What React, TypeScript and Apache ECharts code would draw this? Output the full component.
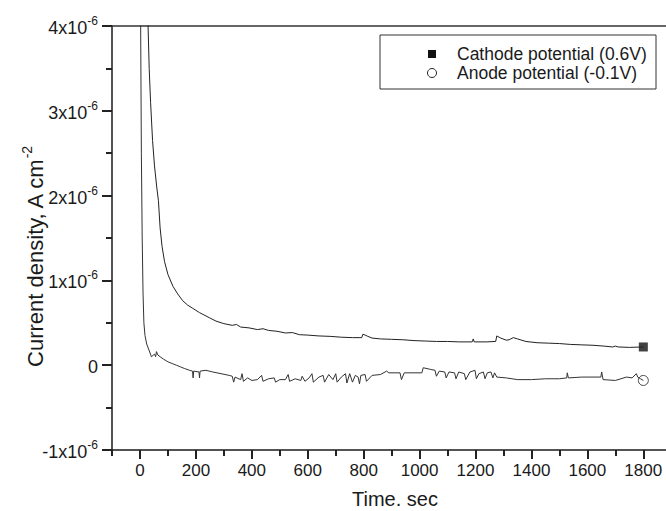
import React, { useEffect, useRef } from "react";
import * as echarts from "echarts";

// Time (s) and current density (in units of 1x10^-6 A cm^-2)
const cathodeData: [number, number][] = [
  [25, 6.0], [29, 4.0], [33, 3.5], [38, 3.1], [45, 2.65], [52, 2.35], [60, 2.1], [66, 1.94],
  [72, 1.62], [79, 1.4], [88, 1.22], [100, 1.07], [118, 0.93], [135, 0.84], [153, 0.76],
  [170, 0.71], [189, 0.67], [213, 0.62], [248, 0.56], [272, 0.52], [300, 0.49], [330, 0.47],
  [345, 0.48], [360, 0.45], [390, 0.44], [420, 0.42], [440, 0.43], [460, 0.41], [490, 0.4],
  [520, 0.38], [545, 0.385], [570, 0.36], [600, 0.355], [640, 0.345], [680, 0.34], [720, 0.33],
  [760, 0.325], [793, 0.325], [797, 0.365], [805, 0.355], [815, 0.34], [830, 0.32], [860, 0.31],
  [900, 0.305], [940, 0.3], [980, 0.29], [1020, 0.285], [1060, 0.28], [1100, 0.28], [1140, 0.275],
  [1188, 0.275], [1192, 0.31], [1195, 0.275], [1240, 0.275], [1272, 0.28], [1276, 0.345],
  [1290, 0.32], [1310, 0.295], [1320, 0.3], [1335, 0.325], [1350, 0.31], [1380, 0.28],
  [1420, 0.265], [1460, 0.26], [1500, 0.255], [1540, 0.245], [1580, 0.24], [1620, 0.235],
  [1660, 0.225], [1690, 0.215], [1700, 0.225], [1710, 0.215], [1750, 0.21], [1800, 0.215],
];

const anodeData: [number, number][] = [
  [0, 10], [2.5, 4.0], [5, 2.5], [8, 1.5], [11, 0.85], [14, 0.5], [18, 0.35], [24, 0.25],
  [32, 0.18], [41, 0.1], [48, 0.12], [52, 0.13], [56, 0.1], [59, 0.16], [64, 0.12], [72, 0.1],
  [85, 0.07], [100, 0.04], [115, 0.02], [130, 0.0], [145, -0.02], [160, -0.04], [177, -0.06],
  [188, -0.07], [190, -0.15], [192, -0.07], [211, -0.08], [213, -0.15], [215, -0.07],
  [236, -0.06], [260, -0.08], [290, -0.1], [319, -0.12], [330, -0.13], [335, -0.2], [340, -0.14],
  [360, -0.17], [365, -0.1], [370, -0.19], [385, -0.15], [400, -0.18], [420, -0.17], [435, -0.12],
  [440, -0.19], [460, -0.16], [480, -0.15], [485, -0.2], [500, -0.17], [520, -0.17], [530, -0.11],
  [535, -0.19], [555, -0.16], [575, -0.18], [580, -0.13], [590, -0.19], [605, -0.15], [615, -0.1],
  [620, -0.2], [640, -0.14], [655, -0.12], [660, -0.2], [675, -0.11], [690, -0.17], [700, -0.1],
  [705, -0.2], [720, -0.14], [735, -0.1], [740, -0.21], [750, -0.1], [760, -0.2], [770, -0.12],
  [780, -0.14], [785, -0.22], [790, -0.12], [805, -0.11], [810, -0.19], [830, -0.12], [860, -0.11],
  [882, -0.07], [890, -0.09], [930, -0.09], [935, -0.17], [945, -0.09], [1008, -0.09],
  [1013, -0.03], [1040, -0.05], [1055, -0.06], [1060, -0.13], [1070, -0.07], [1090, -0.08],
  [1095, -0.15], [1105, -0.08], [1125, -0.09], [1130, -0.16], [1140, -0.08], [1160, -0.1],
  [1165, -0.17], [1180, -0.08], [1198, -0.06], [1203, -0.16], [1212, -0.1], [1228, -0.08],
  [1234, -0.16], [1242, -0.09], [1255, -0.08], [1262, -0.15], [1268, -0.09], [1276, -0.14],
  [1310, -0.15], [1350, -0.17], [1400, -0.17], [1450, -0.16], [1500, -0.16], [1526, -0.15],
  [1528, -0.09], [1532, -0.15], [1580, -0.14], [1620, -0.14], [1648, -0.14], [1651, -0.08],
  [1656, -0.17], [1700, -0.18], [1740, -0.14], [1760, -0.15], [1775, -0.1], [1780, -0.14],
  [1790, -0.16], [1800, -0.18],
];

const seriesNames = ["Cathode potential (0.6V)", "Anode potential (-0.1V)"];
const xTitle = "Time. sec";
const yTitleMain = "Current density, A cm";
const yTitleSup = "-2";

const FONT = "'Liberation Sans', Arial, sans-serif";
const INK = "#1a1a1a";

export default function App() {
  const ref = useRef<HTMLDivElement>(null);

  useEffect(() => {
    if (!ref.current) return;
    const chart = echarts.init(ref.current, undefined, { renderer: "svg" });
    const lastC = cathodeData[cathodeData.length - 1];
    const lastA = anodeData[anodeData.length - 1];
    const tick = { color: "#222222", width: 2 };

    chart.setOption({
      animation: false,
      backgroundColor: "#fff",
      textStyle: { fontFamily: FONT },
      grid: [
        { left: 112, top: 26, width: 559.3, height: 424, containLabel: false, outerBoundsMode: "none" },
        { left: 140, top: 26, width: 559.2, height: 424, containLabel: false, outerBoundsMode: "none" },
      ],
      xAxis: [
        {
          type: "value", gridIndex: 0, position: "bottom",
          min: -100, max: 1900, interval: 100,
          axisLine: { show: true, onZero: false, lineStyle: { color: INK, width: 1.5 } },
          axisTick: { show: true, inside: false, length: 6, lineStyle: tick },
          axisLabel: { show: false },
          splitLine: { show: false },
        },
        {
          type: "value", gridIndex: 0, position: "top",
          min: -100, max: 1900, interval: 100,
          axisLine: { show: true, onZero: false, lineStyle: { color: "#333", width: 1.5 } },
          axisTick: { show: false },
          axisLabel: { show: false },
          splitLine: { show: false },
        },
        {
          type: "value", gridIndex: 1, position: "bottom",
          min: 0, max: 2000, interval: 200,
          axisLine: { show: false, onZero: false },
          axisTick: { show: true, inside: false, length: 9, lineStyle: tick },
          axisLabel: {
            show: true, margin: 12, fontSize: 17, color: INK, fontFamily: FONT,
            formatter: (v: number) => (v > 1800 ? "" : String(v)),
          },
          splitLine: { show: false },
        },
      ],
      yAxis: [
        {
          type: "value", gridIndex: 0, position: "left",
          min: -1, max: 4, interval: 1,
          axisLine: { show: true, onZero: false, lineStyle: { color: INK, width: 1.5 } },
          axisTick: { show: true, inside: false, length: 10, lineStyle: tick },
          splitLine: { show: false },
          axisLabel: {
            margin: 14,
            formatter: (v: number) => (v === 0 ? "{n|0}" : `{n|${v}x10}{s|-6}`),
            rich: {
              n: { fontSize: 18, lineHeight: 22, verticalAlign: "bottom", color: INK, fontFamily: FONT },
              s: { fontSize: 12, lineHeight: 12, verticalAlign: "top", color: INK, fontFamily: FONT },
            },
          },
        },
        {
          type: "value", gridIndex: 0, position: "left",
          min: -1, max: 4, interval: 0.5,
          axisLine: { show: false, onZero: false },
          axisTick: { show: true, inside: false, length: 6, lineStyle: tick },
          axisLabel: { show: false },
          splitLine: { show: false },
        },
        { type: "value", gridIndex: 1, min: -1, max: 4, show: false },
      ],
      series: [
        {
          name: seriesNames[0], type: "line", xAxisIndex: 0, yAxisIndex: 0,
          data: cathodeData, symbol: "none", clip: true,
          lineStyle: { color: "#222", width: 1 },
        },
        {
          name: seriesNames[1], type: "line", xAxisIndex: 0, yAxisIndex: 0,
          data: anodeData, symbol: "none", clip: true,
          lineStyle: { color: "#333", width: 1 },
        },
        {
          type: "scatter", xAxisIndex: 0, yAxisIndex: 0, data: [lastC],
          symbol: "rect", symbolSize: 9, itemStyle: { color: "#111" },
        },
        {
          type: "scatter", xAxisIndex: 0, yAxisIndex: 0, data: [lastA],
          symbol: "circle", symbolSize: 10,
          itemStyle: { color: "#fff", borderColor: "#222", borderWidth: 1 },
        },
      ],
      graphic: [
        {
          type: "text", x: 395, y: 499,
          style: { text: xTitle, fontSize: 20, fontFamily: FONT, fill: INK, align: "center", verticalAlign: "middle" },
        },
        {
          type: "text", x: 33, y: 257, rotation: Math.PI / 2,
          style: {
            text: `{n|${yTitleMain}}{s|${yTitleSup}}`,
            align: "center", verticalAlign: "middle", fill: INK,
            rich: {
              n: { fontSize: 22, lineHeight: 27, verticalAlign: "bottom", fontFamily: FONT, fill: INK },
              s: { fontSize: 14, lineHeight: 14, verticalAlign: "top", fontFamily: FONT, fill: INK },
            },
          },
        },
        {
          type: "rect", shape: { x: 380, y: 35, width: 276, height: 54 },
          style: { fill: "#fff", stroke: "#333", lineWidth: 1 },
        },
        {
          type: "rect", shape: { x: 428, y: 50, width: 8, height: 8 },
          style: { fill: "#111" },
        },
        {
          type: "circle", shape: { cx: 432, cy: 73, r: 4.5 },
          style: { fill: "#fff", stroke: "#222", lineWidth: 1 },
        },
        {
          type: "text", x: 457, y: 54,
          style: { text: seriesNames[0], fontSize: 17.5, fontFamily: FONT, fill: INK, verticalAlign: "middle" },
        },
        {
          type: "text", x: 457, y: 73,
          style: { text: seriesNames[1], fontSize: 17.5, fontFamily: FONT, fill: INK, verticalAlign: "middle" },
        },
      ],
    });

    return () => chart.dispose();
  }, []);

  return (
    <div
      ref={ref}
      style={{ position: "absolute", left: 0, top: 0, width: 666, height: 511 }}
    />
  );
}
